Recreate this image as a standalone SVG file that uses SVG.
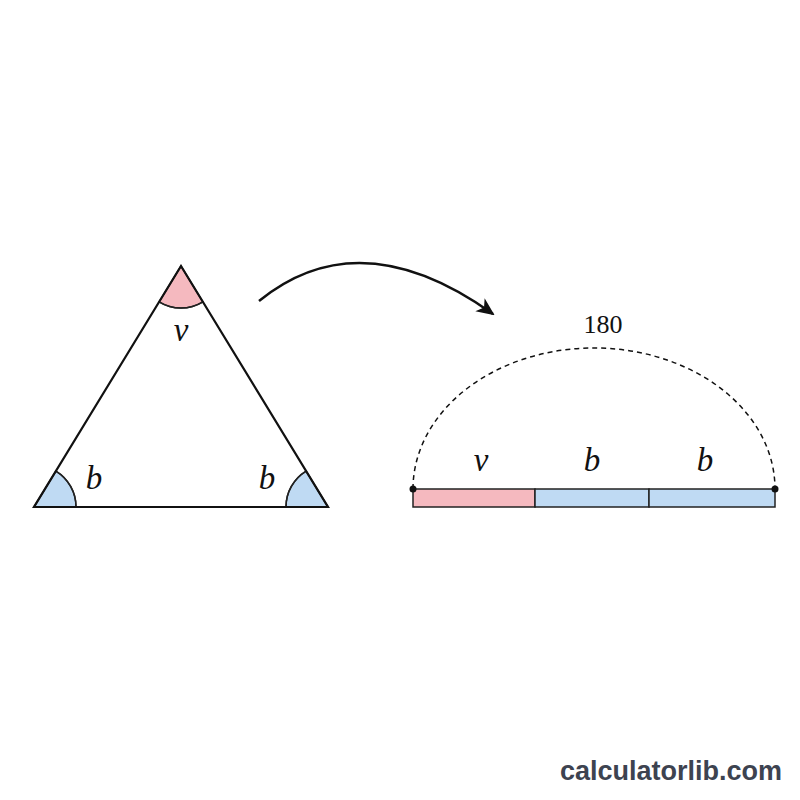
<svg xmlns="http://www.w3.org/2000/svg" width="800" height="800" viewBox="0 0 800 800">
<style>
.lbl{font-family:"Liberation Serif","DejaVu Serif",serif;font-style:italic;font-size:33px;fill:#111;text-anchor:middle}
.num{font-family:"Liberation Serif","DejaVu Serif",serif;font-size:26px;fill:#111;text-anchor:middle}
.pink{fill:#f5b9bf;stroke:#222;stroke-width:1.5}
.blue{fill:#bfdaf3;stroke:#222;stroke-width:1.5}
.wm{font-family:"Liberation Sans","DejaVu Sans",sans-serif;font-weight:bold;font-size:27px;fill:#3d4350;text-anchor:end}
</style>
<defs>
<marker id="ah" markerWidth="18" markerHeight="18" refX="16" refY="9" orient="auto" markerUnits="userSpaceOnUse" viewBox="0 0 18 18">
<path d="M0,1 L18,9 L0,17 L5,9 Z" fill="#111"/>
</marker>
</defs>
<rect width="800" height="800" fill="#fff"/>
<g id="triangle">
<path class="pink" d="M181,266 L159.1,301.9 A42,42 0 0 0 202.9,301.9 Z" stroke="none"/>
<path d="M159.1,301.9 A42,42 0 0 0 202.9,301.9" fill="none" stroke="#222" stroke-width="1.6"/>
<path class="blue" d="M34,507 L55.9,471.1 A42,42 0 0 1 76,507 Z" stroke="none"/>
<path d="M55.9,471.1 A42,42 0 0 1 76,507" fill="none" stroke="#222" stroke-width="1.6"/>
<path class="blue" d="M328,507 L306.1,471.1 A42,42 0 0 0 286,507 Z" stroke="none"/>
<path d="M306.1,471.1 A42,42 0 0 0 286,507" fill="none" stroke="#222" stroke-width="1.6"/>
<polygon points="181,266 34,507 328,507" fill="none" stroke="#111" stroke-width="2.2" stroke-linejoin="miter"/>
<text class="lbl" x="181" y="341">v</text>
<text class="lbl" x="94" y="489">b</text>
<text class="lbl" x="267" y="489">b</text>
</g>
<g id="connectors">
<path d="M259,301 Q360,219 493,314" fill="none" stroke="#111" stroke-width="2.5" marker-end="url(#ah)"/>
<path d="M413,489 A181,141 0 0 1 775,489" fill="none" stroke="#111" stroke-width="1.5" stroke-dasharray="5,4"/>
</g>
<g id="bar">
<rect class="pink" x="413" y="489" width="122" height="18"/>
<rect class="blue" x="535" y="489" width="114" height="18"/>
<rect class="blue" x="649" y="489" width="126" height="18"/>
<circle cx="413" cy="489" r="3.5" fill="#111"/>
<circle cx="775" cy="489" r="3.5" fill="#111"/>
<text class="lbl" x="481" y="471">v</text>
<text class="lbl" x="592" y="471">b</text>
<text class="lbl" x="705" y="471">b</text>
<text class="num" x="603" y="333">180</text>
</g>
<text class="wm" x="782" y="780">calculatorlib.com</text>
</svg>
